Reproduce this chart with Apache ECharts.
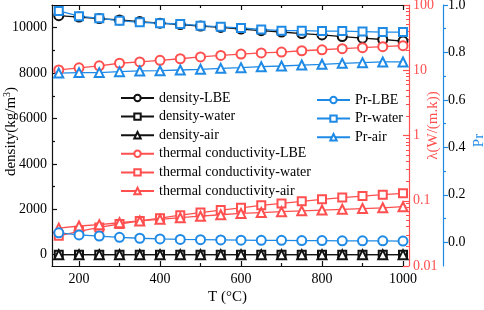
<!DOCTYPE html>
<html>
<head>
<meta charset="utf-8">
<script src="https://cdn.jsdelivr.net/npm/echarts@6/dist/echarts.min.js"></script>
<style>
  html, body { margin: 0; padding: 0; background: #fff; }
  #chart { width: 484px; height: 310px; }
</style>
</head>
<body>
<div id="chart"></div>
<script>
// temperature, °C
const temps = [150, 200, 250, 300, 350, 400, 450, 500, 550, 600, 650, 700, 750, 800, 850, 900, 950, 1000];

// density, kg/m3
const densityLBE = [10530, 10470, 10400, 10340, 10270, 10200, 10140, 10070, 10010, 9940, 9870, 9810, 9740, 9680, 9610, 9540, 9480, 9410];
const densityWater = [0.52, 0.46, 0.42, 0.38, 0.35, 0.33, 0.30, 0.29, 0.27, 0.25, 0.24, 0.23, 0.22, 0.21, 0.20, 0.19, 0.18, 0.17];
const densityAir = [0.83, 0.75, 0.67, 0.62, 0.57, 0.52, 0.49, 0.46, 0.43, 0.40, 0.38, 0.36, 0.34, 0.33, 0.31, 0.30, 0.29, 0.28];

// thermal conductivity, W/(m.k)
const condLBE = [10.1, 10.9, 11.7, 12.8, 13.4, 14.2, 15.0, 16.0, 16.9, 17.7, 18.4, 19.0, 19.9, 20.6, 21.4, 22.2, 23.0, 23.8];
const condWater = [0.029, 0.034, 0.039, 0.044, 0.049, 0.054, 0.060, 0.066, 0.072, 0.078, 0.085, 0.091, 0.098, 0.105, 0.112, 0.118, 0.124, 0.130];
const condAir = [0.038, 0.041, 0.043, 0.046, 0.049, 0.052, 0.055, 0.058, 0.061, 0.064, 0.066, 0.068, 0.070, 0.072, 0.074, 0.076, 0.078, 0.081];

// Prandtl number
const prLBE = [0.040, 0.031, 0.026, 0.021, 0.017, 0.014, 0.012, 0.011, 0.010, 0.009, 0.008, 0.008, 0.007, 0.007, 0.006, 0.006, 0.006, 0.005];
const prWater = [0.975, 0.953, 0.944, 0.934, 0.927, 0.923, 0.920, 0.913, 0.908, 0.903, 0.897, 0.892, 0.892, 0.890, 0.890, 0.888, 0.886, 0.886];
const prAir = [0.713, 0.715, 0.715, 0.719, 0.722, 0.723, 0.726, 0.729, 0.733, 0.736, 0.740, 0.743, 0.747, 0.750, 0.754, 0.757, 0.760, 0.760];

// tick labels
const xLabels = [200, 400, 600, 800, 1000];
const xMinor = [300, 500, 700, 900];
const densityLabels = [0, 2000, 4000, 6000, 8000, 10000];
const densityMinor = [1000, 3000, 5000, 7000, 9000];
const prLabels = [0, 0.2, 0.4, 0.6, 0.8, 1.0];
const prMinor = [0.1, 0.3, 0.5, 0.7, 0.9];
const condMinorMant = [2, 3, 4, 5, 6, 7, 8, 9];
const condDecades = [0.01, 0.1, 1, 10];

const BLACK = '#111';
const RED = '#ff4f4f';
const BLUE = '#1e8ae6';
const FONT = 'Liberation Serif';

const pairs = arr => temps.map((t, i) => [t, arr[i]]);

// minor ticks on the log axis, placed on a linear exponent axis (-2..2)
const condMinorPos = [];
condDecades.forEach(d => condMinorMant.forEach(m => condMinorPos.push(Math.log10(m * d))));

const noLabel = { show: false };
const noSplit = { show: false };

function xAx(position, ticks, len, showLine, showLabels) {
  return {
    type: 'value', position: position, min: 133.3, max: 1000,
    axisLine: { show: showLine, onZero: false, lineStyle: { color: BLACK, width: 1.2 } },
    axisTick: { show: true, inside: true, length: len, customValues: ticks, lineStyle: { color: BLACK, width: 1.2 } },
    axisLabel: showLabels ? { customValues: xLabels, color: '#000', fontFamily: FONT, fontSize: 14, margin: 6,
                              formatter: v => String(v) } : noLabel,
    splitLine: noSplit
  };
}

const chart = echarts.init(document.getElementById('chart'));

const lineCommon = (name, data, color, symbol, yIdx) => ({
  name: name, type: 'line', data: pairs(data), xAxisIndex: 0, yAxisIndex: yIdx,
  symbol: symbol, symbolSize: symbol === 'emptyRect' ? 8 : 9,
  lineStyle: { color: color, width: 1.3 },
  itemStyle: { color: color, borderColor: color, borderWidth: 1.1 },
  emphasis: { disabled: true }, animation: false
});

const legendCommon = {
  orient: 'vertical', itemWidth: 33, itemHeight: 8, itemGap: 4.6,
  textStyle: { color: '#000', fontFamily: FONT, fontSize: 14 }
};

chart.setOption({
  animation: false,
  grid: { left: 52, right: 81, top: 5, bottom: 44, outerBoundsMode: 'none', containLabel: false },
  legend: [
    Object.assign({}, legendCommon, {
      left: 115, top: 86,
      data: ['density-LBE', 'density-water', 'density-air',
             'thermal conductivity-LBE', 'thermal conductivity-water', 'thermal conductivity-air']
    }),
    Object.assign({}, legendCommon, {
      left: 311, top: 88,
      data: ['Pr-LBE', 'Pr-water', 'Pr-air']
    })
  ],
  xAxis: [
    Object.assign(xAx('bottom', xLabels, 5, true, true), {
      name: 'T (°C)', nameLocation: 'middle', nameGap: 24, nameMoveOverlap: false,
      nameTextStyle: { color: '#000', fontFamily: FONT, fontSize: 15 }
    }),
    xAx('bottom', xMinor, 3, false, false),
    xAx('top', xLabels, 5, true, false),
    xAx('top', xMinor, 3, false, false)
  ],
  yAxis: [
    {
      type: 'value', position: 'left', min: -500, max: 11000,
      axisLine: { show: true, onZero: false, lineStyle: { color: BLACK, width: 1.2 } },
      axisTick: { inside: true, length: 5, customValues: densityLabels, lineStyle: { color: BLACK, width: 1.2 } },
      axisLabel: { customValues: densityLabels, color: '#000', fontFamily: FONT, fontSize: 14, margin: 5,
                   formatter: v => String(v) },
      splitLine: noSplit,
      name: 'density(kg/m{sup|3})', nameLocation: 'middle', nameGap: 32, nameMoveOverlap: false,
      nameTextStyle: {
        color: '#000', fontFamily: FONT, fontSize: 15, padding: [0, 0, 0, 8],
        rich: { sup: { fontFamily: FONT, fontSize: 10, verticalAlign: 'top', padding: [0, 0, 8, 0] } }
      }
    },
    {
      type: 'value', position: 'left', min: -500, max: 11000,
      axisLine: { show: false },
      axisTick: { show: true, inside: true, length: 3, customValues: densityMinor, lineStyle: { color: BLACK, width: 1.2 } },
      axisLabel: noLabel, splitLine: noSplit
    },
    {
      type: 'log', logBase: 10, position: 'right', offset: 6, min: 0.01, max: 100,
      axisLine: { show: true, onZero: false, lineStyle: { color: RED, width: 1.2 } },
      axisTick: { show: true, inside: true, length: 6, lineStyle: { color: RED, width: 1.2 } },
      axisLabel: { color: RED, fontFamily: FONT, fontSize: 14, margin: 4 },
      minorTick: { show: false }, splitLine: noSplit,
      name: 'λ(W/(m.k))', nameLocation: 'middle', nameGap: 17, nameMoveOverlap: false,
      nameTextStyle: { color: RED, fontFamily: FONT, fontSize: 15, padding: [0, 0, 0, 20] }
    },
    {
      type: 'value', position: 'right', offset: 6, min: -2, max: 2,
      axisLine: { show: false },
      axisTick: { show: true, inside: true, length: 3, customValues: condMinorPos, lineStyle: { color: RED, width: 1 } },
      axisLabel: noLabel, splitLine: noSplit
    },
    {
      type: 'value', position: 'right', offset: 40, min: -0.1, max: 1.0,
      axisLine: { show: true, onZero: false, lineStyle: { color: BLUE, width: 1.2 } },
      axisTick: { show: true, inside: false, length: 5, customValues: prLabels, lineStyle: { color: BLUE, width: 1.2 } },
      axisLabel: { customValues: prLabels, color: '#000', fontFamily: FONT, fontSize: 14, margin: 5,
                   formatter: v => v.toFixed(1) },
      splitLine: noSplit,
      name: 'Pr', nameLocation: 'middle', nameGap: 29, nameMoveOverlap: false,
      nameTextStyle: { color: BLUE, fontFamily: FONT, fontSize: 15, padding: [0, 10, 0, 0] }
    },
    {
      type: 'value', position: 'right', offset: 40, min: -0.1, max: 1.0,
      axisLine: { show: false },
      axisTick: { show: true, inside: false, length: 3, customValues: prMinor, lineStyle: { color: BLUE, width: 1.2 } },
      axisLabel: noLabel, splitLine: noSplit
    }
  ],
  series: [
    lineCommon('density-LBE', densityLBE, BLACK, 'emptyCircle', 0),
    lineCommon('density-water', densityWater, BLACK, 'emptyRect', 0),
    lineCommon('density-air', densityAir, BLACK, 'emptyTriangle', 0),
    lineCommon('thermal conductivity-LBE', condLBE, RED, 'emptyCircle', 2),
    lineCommon('thermal conductivity-water', condWater, RED, 'emptyRect', 2),
    lineCommon('thermal conductivity-air', condAir, RED, 'emptyTriangle', 2),
    lineCommon('Pr-LBE', prLBE, BLUE, 'emptyCircle', 4),
    lineCommon('Pr-water', prWater, BLUE, 'emptyRect', 4),
    lineCommon('Pr-air', prAir, BLUE, 'emptyTriangle', 4)
  ]
});
</script>
</body>
</html>
